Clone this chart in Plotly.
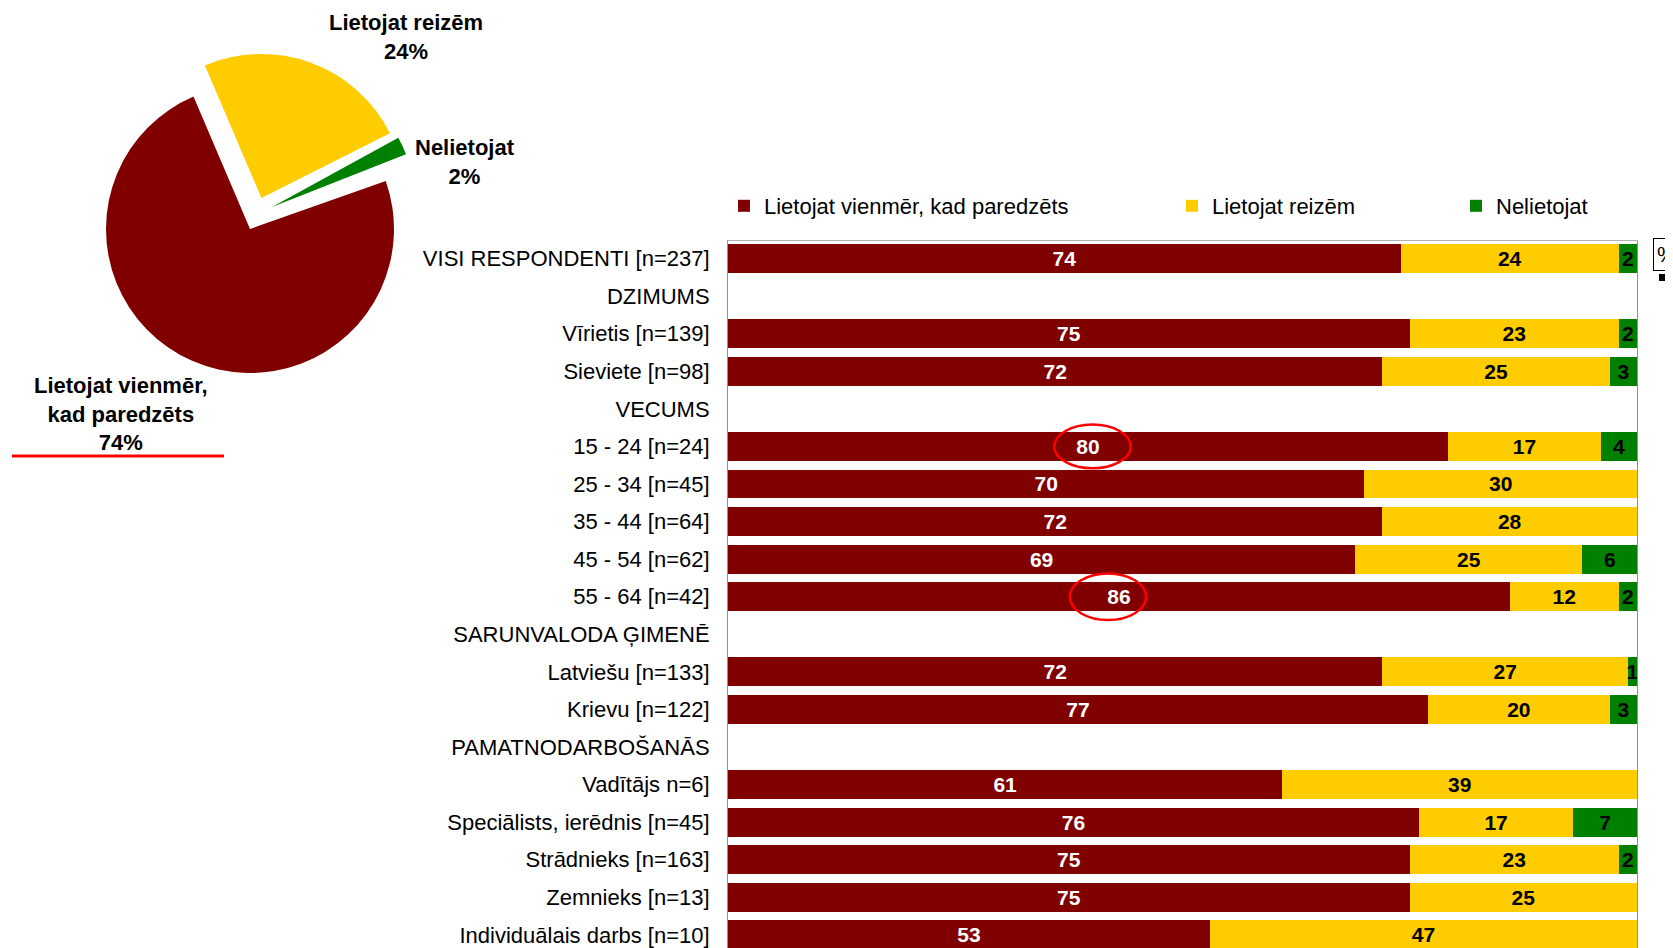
import plotly.graph_objects as go

W, H = 1673, 948
OFF = 8  # page body margin in the screenshot

# ---------------- data ----------------
categories = [
    "VISI RESPONDENTI [n=237]", "DZIMUMS", "Vīrietis [n=139]", "Sieviete [n=98]",
    "VECUMS", "15 - 24 [n=24]", "25 - 34 [n=45]", "35 - 44 [n=64]", "45 - 54 [n=62]",
    "55 - 64 [n=42]", "SARUNVALODA ĢIMENĒ", "Latviešu [n=133]", "Krievu [n=122]",
    "PAMATNODARBOŠANĀS", "Vadītājs n=6]", "Speciālists, ierēdnis [n=45]",
    "Strādnieks [n=163]", "Zemnieks [n=13]", "Individuālais darbs [n=10]",
]
always = [74, None, 75, 72, None, 80, 70, 72, 69, 86, None, 72, 77, None, 61, 76, 75, 75, 53]
sometimes = [24, None, 23, 25, None, 17, 30, 28, 25, 12, None, 27, 20, None, 39, 17, 23, 25, 47]
never = [2, None, 2, 3, None, 4, None, None, 6, 2, None, 1, 3, None, None, 7, 2, None, None]

series_names = ["Lietojat vienmēr, kad paredzēts", "Lietojat reizēm", "Nelietojat"]
pie_values = [74, 24, 2]
pie_labels_text = ["Lietojat vienmēr,<br>kad paredzēts<br>74%", "Lietojat reizēm<br>24%", "Nelietojat<br>2%"]

colors = ["#800000", "#FFCC00", "#008000"]
text_colors = ["white", "black", "black"]
FONT = "Liberation Sans, Arial, sans-serif"
CLEAR = "rgba(0,0,0,0)"

def px_x(p):
    return (p - OFF) / W

def px_y(p):
    return 1 - (p - OFF) / H

fig = go.Figure()

# ---------------- pie ----------------
# main pie: dark red + exploded yellow slice (green drawn separately below)
cx, cy, R, pull = 250, 229, 144, 0.23
half = R * (1 + pull)
fig.add_trace(go.Pie(
    values=pie_values, labels=series_names, sort=False, direction="clockwise",
    rotation=70.5, pull=[0, pull, pull],
    marker=dict(colors=[colors[0], colors[1], CLEAR], line=dict(width=0)),
    textinfo="none", hoverinfo="label+percent", showlegend=False,
    domain=dict(x=[px_x(cx - half), px_x(cx + half)], y=[px_y(cy + half), px_y(cy - half)]),
))
# exploded green slice, offset sideways like in the original
gx, gy = 272, 207
fig.add_trace(go.Pie(
    values=pie_values, labels=series_names, sort=False, direction="clockwise",
    rotation=68.5, marker=dict(colors=[CLEAR, CLEAR, colors[2]], line=dict(width=0)),
    textinfo="none", hoverinfo="label+percent", showlegend=False,
    domain=dict(x=[px_x(gx - R), px_x(gx + R)], y=[px_y(gy + R), px_y(gy - R)]),
))

# ---------------- stacked bars ----------------
legend_ids = ["legend", "legend2", "legend3"]
for vals, name, col, tcol, lg in zip([always, sometimes, never], series_names, colors, text_colors, legend_ids):
    fig.add_trace(go.Bar(
        y=categories, x=vals, name=name, orientation="h",
        marker=dict(color=col, line=dict(width=0)),
        text=[("" if v is None else str(v)) for v in vals],
        textposition="inside", insidetextanchor="middle", constraintext="none", textangle=0,
        textfont=dict(family=FONT, size=21, color=tcol, weight="bold"),
        cliponaxis=False, legend=lg,
    ))

x0p, x1p = 728, 1637
top_px = 241
row0, step = 258.5, 37.58
y_top = -(row0 - top_px) / step
y_bot = (H + OFF - row0) / step

fig.update_layout(
    width=W, height=H, margin=dict(l=0, r=0, t=0, b=0),
    paper_bgcolor="white", plot_bgcolor="white",
    barmode="stack", barnorm="percent", bargap=0.23,
    font=dict(family=FONT, size=22, color="black"),
    xaxis=dict(domain=[px_x(x0p), px_x(x1p)], range=[0, 100], showgrid=False, zeroline=False,
               showticklabels=False, ticks="", side="top", showline=True, linecolor="#b0b0b0",
               linewidth=1, fixedrange=True),
    yaxis=dict(domain=[0, px_y(top_px)], range=[y_bot, y_top], type="category",
               showgrid=False, zeroline=False, ticks="", showline=True, mirror=True,
               linecolor="#909090", linewidth=1, automargin=False, ticklabelstandoff=13,
               tickfont=dict(family=FONT, size=22, color="black")),
    showlegend=True,
)

leg_common = dict(orientation="h", yanchor="middle", xanchor="left", y=px_y(206),
                  bgcolor="rgba(0,0,0,0)", font=dict(family=FONT, size=22, color="black"),
                  itemwidth=30)
fig.update_layout(
    legend=dict(x=px_x(764 - 40), **leg_common),
    legend2=dict(x=px_x(1212 - 40), **leg_common),
    legend3=dict(x=px_x(1496 - 40), **leg_common),
)

# pie labels
label_pos = [(120.6, 414), (405.5, 37), (464.7, 162)]
for txt, (lx, ly) in zip(pie_labels_text, label_pos):
    fig.add_annotation(x=px_x(lx), y=px_y(ly), xref="paper", yref="paper", text=f"<b>{txt}</b>",
                       showarrow=False, xanchor="center", yanchor="middle",
                       font=dict(family=FONT, size=22, color="black"), align="center")

shapes = []
# red underline under pie label
shapes.append(dict(type="line", xref="paper", yref="paper", x0=px_x(12), x1=px_x(224),
                   y0=px_y(456), y1=px_y(456), line=dict(color="red", width=3)))
# highlight ellipses (x in %, y = category row)
highlights = [("15 - 24 [n=24]", 35.9, 44.3, 0.58), ("55 - 64 [n=42]", 37.6, 46.0, 0.62)]
for cat, ex0, ex1, hh in highlights:
    r = categories.index(cat)
    shapes.append(dict(type="circle", xref="x", yref="y", x0=ex0, x1=ex1, y0=r - hh, y1=r + hh,
                       line=dict(color="red", width=2.5), fillcolor="rgba(0,0,0,0)"))
# shadow of % box
shapes.append(dict(type="rect", xref="paper", yref="paper", x0=px_x(1659), x1=px_x(1700),
                   y0=px_y(281), y1=px_y(274), fillcolor="black", line=dict(width=0)))
fig.update_layout(shapes=shapes)

fig.add_annotation(x=px_x(1653), y=px_y(255), xref="paper", yref="paper", text="%",
                   showarrow=False, xanchor="left", yanchor="middle",
                   font=dict(family=FONT, size=22, color="black"),
                   bordercolor="black", borderwidth=1, borderpad=3, bgcolor="white")

fig.write_html("out.html")
